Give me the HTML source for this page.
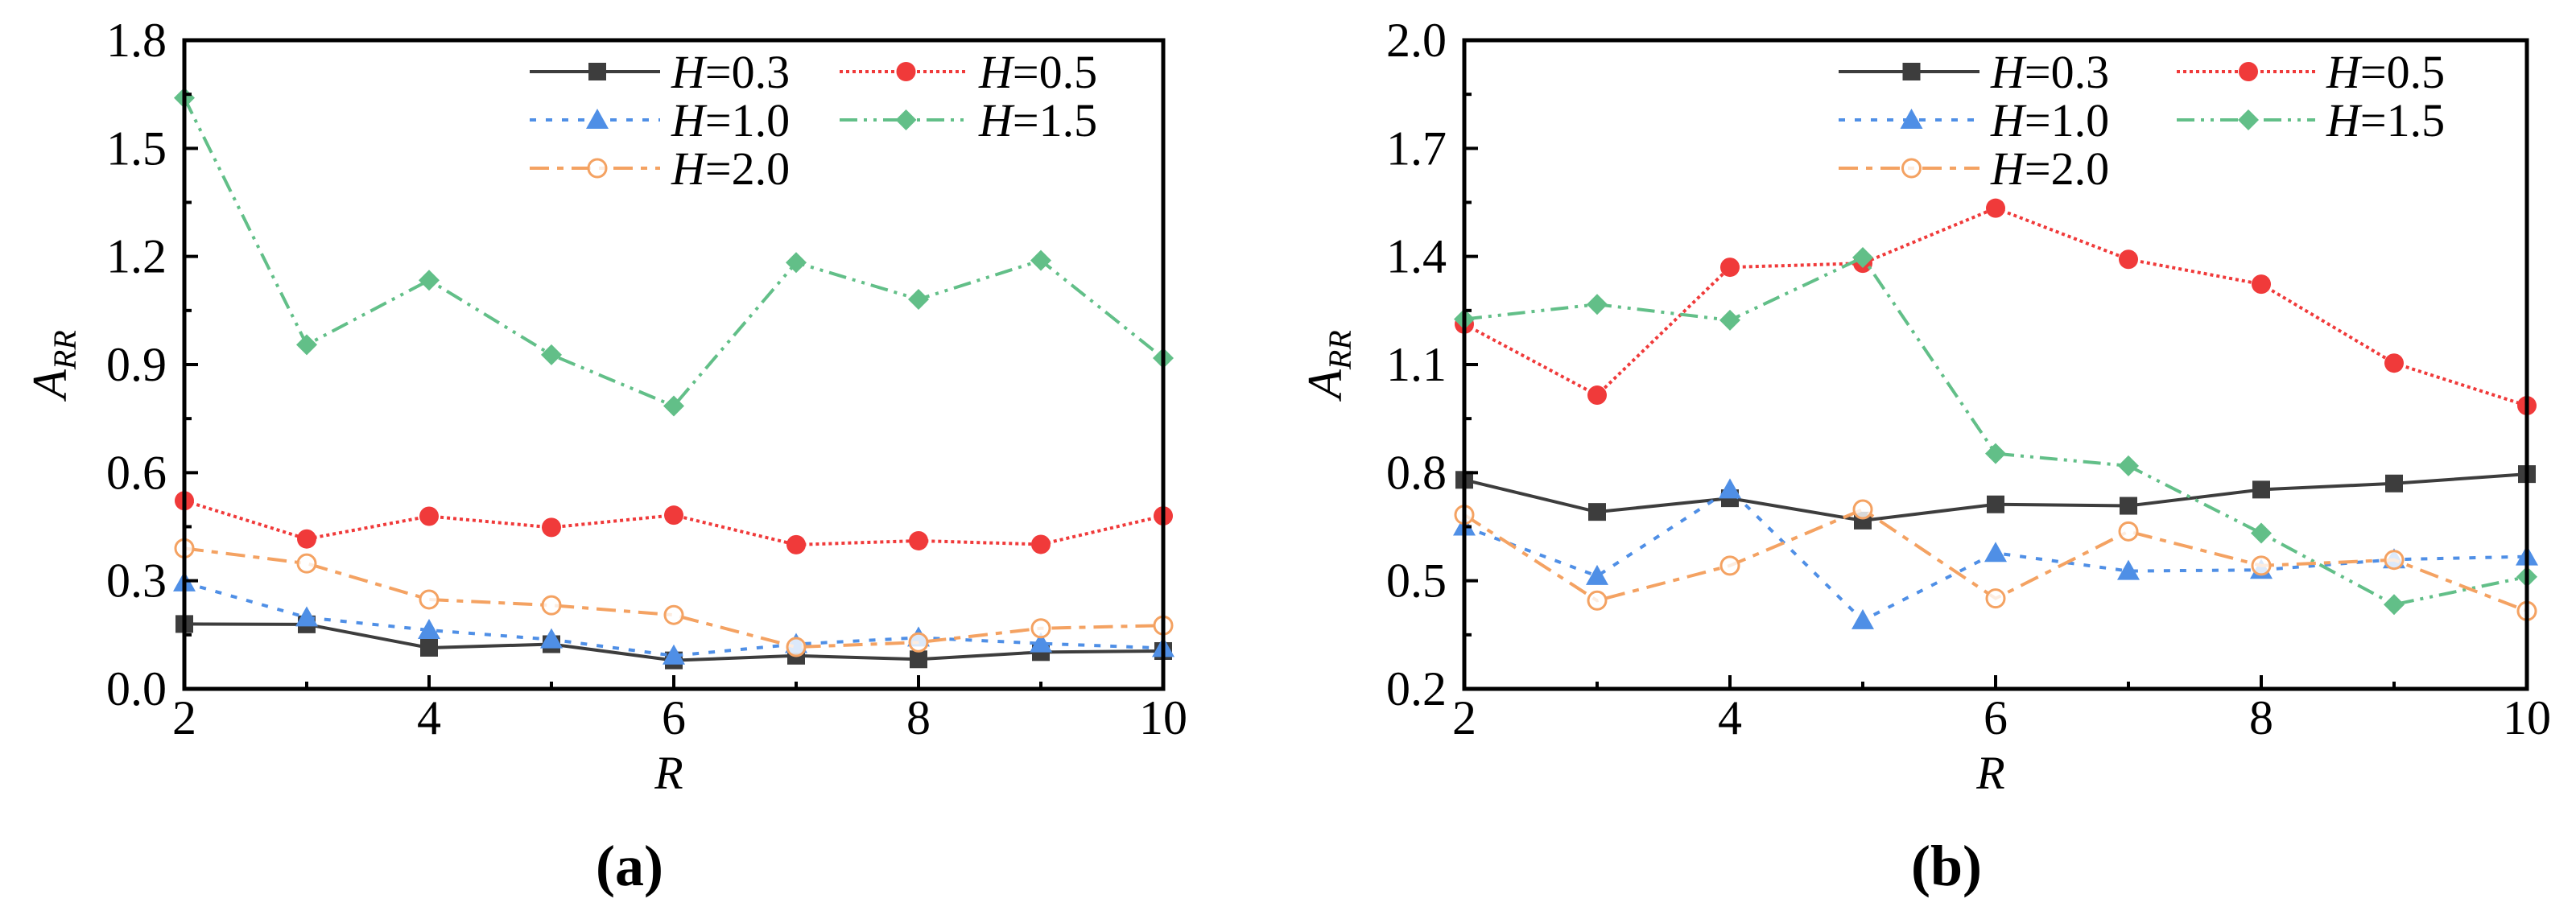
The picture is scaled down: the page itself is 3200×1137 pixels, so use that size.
<!DOCTYPE html>
<html><head><meta charset="utf-8"><style>
html,body{margin:0;padding:0;background:#fff;}
svg, svg text{font-family:"Liberation Serif","Times New Roman",serif;}
</style></head><body>
<svg id="fig" width="3200" height="1132" viewBox="0 0 3200 1132" xmlns="http://www.w3.org/2000/svg" font-family="Liberation Serif, serif"></svg>
<script>
const rValues=[2,3,4,5,6,7,8,9,10];
const seriesNames=["H=0.3","H=0.5","H=1.0","H=1.5","H=2.0"];
const leftH03=[0.180,0.179,0.114,0.124,0.079,0.092,0.082,0.102,0.105];
const leftH05=[0.522,0.416,0.479,0.448,0.482,0.400,0.411,0.401,0.480];
const leftH10=[0.295,0.198,0.163,0.137,0.092,0.124,0.142,0.126,0.113];
const leftH15=[1.640,0.955,1.134,0.927,0.785,1.183,1.081,1.189,0.918];
const leftH20=[0.390,0.348,0.248,0.232,0.205,0.116,0.129,0.168,0.176];
const rightH03=[0.780,0.691,0.729,0.667,0.712,0.708,0.753,0.770,0.796];
const rightH05=[1.212,1.015,1.370,1.381,1.534,1.392,1.323,1.104,0.986];
const rightH10=[0.650,0.513,0.753,0.390,0.577,0.527,0.530,0.559,0.567];
const rightH15=[1.226,1.267,1.223,1.397,0.853,0.819,0.632,0.434,0.511];
const rightH20=[0.683,0.445,0.542,0.698,0.451,0.637,0.542,0.558,0.416];
const leftYTicks=["0.0","0.3","0.6","0.9","1.2","1.5","1.8"];
const rightYTicks=["0.2","0.5","0.8","1.1","1.4","1.7","2.0"];
const xTicks=["2","4","6","8","10"];

const NS="http://www.w3.org/2000/svg";
const svg=document.getElementById('fig');
function mk(tag,attrs,parent){const e=document.createElementNS(NS,tag);for(const k in attrs)e.setAttribute(k,attrs[k]);if(tag==='text')e.setAttribute('font-family','Liberation Serif, serif');(parent||svg).appendChild(e);return e;}

const styles=[
 {c:"#3d3d3d",dash:"",m:"square"},
 {c:"#f03a3a",dash:"4 4",m:"circle"},
 {c:"#4f8fe6",dash:"8 12",m:"triangle"},
 {c:"#62bf88",dash:"22 8 4 8 4 8",m:"diamond"},
 {c:"#f4a262",dash:"24 10 8 10",m:"ocircle"}
];
function marker(g,m,x,y,c){
 let e;
 if(m==="square"){e=mk('rect',{x:x-11,y:y-11,width:22,height:22,fill:c},g);}
 else if(m==="circle"){e=mk('circle',{cx:x,cy:y,r:12,fill:c},g);}
 else if(m==="triangle"){e=mk('polygon',{points:`${x},${y-14} ${x+14},${y+11} ${x-14},${y+11}`,fill:c},g);}
 else if(m==="diamond"){e=mk('polygon',{points:`${x},${y-13} ${x+13},${y} ${x},${y+13} ${x-13},${y}`,fill:c},g);}
 else {e=mk('circle',{cx:x,cy:y,r:11,fill:"#fff","fill-opacity":0.8,stroke:c,"stroke-width":3},g);}
 
 
}

function panel(cfg){
 const g=mk('g',{});
 
 
 const X0=cfg.x0,X1=cfg.x1,Y0=856,Y1=50;
 const xs=v=>X0+(v-2)/8*(X1-X0);
 const ys=v=>Y0-(v-cfg.ymin)/(cfg.ymax-cfg.ymin)*(Y0-Y1);
 cfg.data.forEach((arr,i)=>{
  const s=styles[i];
  const sg=mk('g',{},g);
  
  
  const pts=arr.map((v,j)=>xs(rValues[j])+","+ys(v)).join(" ");
  const pl=mk('polyline',{points:pts,fill:"none",stroke:s.c,"stroke-width":4,"stroke-dasharray":s.dash},sg);
  
  
  arr.forEach((v,j)=>marker(sg,s.m,xs(rValues[j]),ys(v),s.c));
 });
 const fr=mk('rect',{x:X0,y:Y1,width:X1-X0,height:Y0-Y1,fill:"none",stroke:"#000","stroke-width":5},g);
 
 
 cfg.yt.forEach((t,i)=>{
  const v=parseFloat(t), y=ys(v);
  mk('line',{x1:X0,y1:y,x2:X0+17,y2:y,stroke:"#000","stroke-width":4},g);
  if(i<cfg.yt.length-1){const ym=ys(v+0.15);mk('line',{x1:X0,y1:ym,x2:X0+9,y2:ym,stroke:"#000","stroke-width":4},g);}
  const tx=mk('text',{x:X0-22,y:y+20,"font-size":60,"text-anchor":"end",fill:"#000"},g);
  tx.textContent=t;
  
  
 });
 xTicks.forEach((t,i)=>{
  const v=parseFloat(t), x=xs(v);
  mk('line',{x1:x,y1:Y0,x2:x,y2:Y0-17,stroke:"#000","stroke-width":4},g);
  if(v<10){const xm=xs(v+1);mk('line',{x1:xm,y1:Y0,x2:xm,y2:Y0-9,stroke:"#000","stroke-width":4},g);}
  const tx=mk('text',{x:x,y:Y0+56,"font-size":60,"text-anchor":"middle",fill:"#000"},g);
  tx.textContent=t;
  
  
 });
 const yt=mk('text',{transform:`translate(${cfg.ytx},453) rotate(-90)`,"font-size":60,"font-style":"italic","text-anchor":"middle",fill:"#000"},g);
 yt.innerHTML='A<tspan font-size="40" dy="12">RR</tspan>';
 
 
 const xt=mk('text',{x:(X0+X1)/2-6,y:980,"font-size":58,"font-style":"italic","text-anchor":"middle",fill:"#000"},g);
 xt.textContent="R";
 
 
 const cap=mk('text',{x:cfg.capx,y:1100,"font-size":72,"font-weight":"bold","text-anchor":"middle",fill:"#000"},g);
 cap.textContent=cfg.cap;
 
 
 const lg=mk('g',{},g);
 
 
 const pos=[[0,0],[1,0],[0,1],[1,1],[0,2]];
 seriesNames.forEach((n,i)=>{
  const s=styles[i];
  const col=cfg.leg[pos[i][0]], y=89+pos[i][1]*60;
  const eg=mk('g',{},lg);
  
  
  mk('line',{x1:col[0],y1:y,x2:col[1],y2:y,stroke:s.c,"stroke-width":4,"stroke-dasharray":s.dash},eg);
  marker(eg,s.m,(col[0]+col[1])/2+3,y,s.c);
  const t=mk('text',{x:col[1]+14,y:y+20,"font-size":58,fill:"#000"},eg);
  t.innerHTML='<tspan font-style="italic">H</tspan>'+n.slice(1);
 });
}
panel({name:'chart-a',x0:229,x1:1445,ymin:0,ymax:1.8,yt:leftYTicks,ytx:82,capx:782,cap:'(a)',
 data:[leftH03,leftH05,leftH10,leftH15,leftH20],leg:[[658,820],[1043,1202]]});
panel({name:'chart-b',x0:1819,x1:3139,ymin:0.2,ymax:2.0,yt:rightYTicks,ytx:1666,capx:2418,cap:'(b)',
 data:[rightH03,rightH05,rightH10,rightH15,rightH20],leg:[[2284,2459],[2704,2876]]});
</script>
</body></html>
